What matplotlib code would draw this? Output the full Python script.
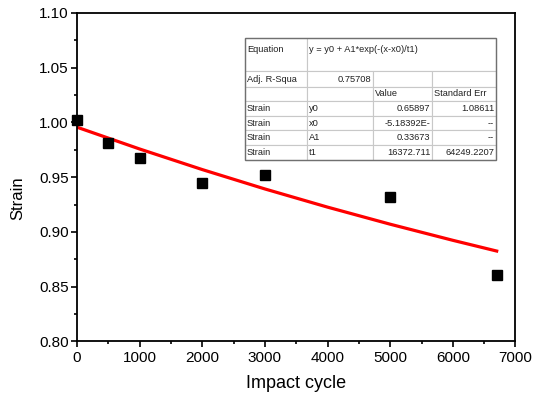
import matplotlib
matplotlib.use("Agg")
import matplotlib.pyplot as plt
from matplotlib.patches import Rectangle
from matplotlib.ticker import MultipleLocator, FormatStrFormatter

plt.rcParams["font.family"] = ["Liberation Sans", "DejaVu Sans"]

# measured strain vs impact cycle
cycles = [0, 500, 1000, 2000, 3000, 5000, 6700]
strain = [1.002, 0.981, 0.968, 0.9445, 0.952, 0.932, 0.861]

# exponential fit curve
fit_x = [0, 1000, 2000, 3000, 4000, 5000, 6000, 6700]
fit_y = [0.9957, 0.9758, 0.9570, 0.9393, 0.9227, 0.9071, 0.8924, 0.8826]

# fit report table
table_rows = [
    ["Equation", "y = y0 + A1*exp(-(x-x0)/t1)", "", ""],
    ["Adj. R-Squa", "0.75708", "", ""],
    ["", "", "Value", "Standard Err"],
    ["Strain", "y0", "0.65897", "1.08611"],
    ["Strain", "x0", "-5.18392E-", "--"],
    ["Strain", "A1", "0.33673", "--"],
    ["Strain", "t1", "16372.711", "64249.2207"],
]

fig = plt.figure(figsize=(5.4, 4.01), dpi=100)
ax = fig.add_axes([0.1426, 0.1484, 0.8120, 0.8192])

ax.plot(fit_x, fit_y, color="red", lw=2.3, zorder=2)
ax.plot(cycles, strain, "s", color="black", ms=7.5, zorder=3, clip_on=False)

ax.set_xlim(0, 7000)
ax.set_ylim(0.80, 1.10)
ax.xaxis.set_major_locator(MultipleLocator(1000))
ax.xaxis.set_minor_locator(MultipleLocator(500))
ax.yaxis.set_major_locator(MultipleLocator(0.05))
ax.yaxis.set_minor_locator(MultipleLocator(0.025))
ax.yaxis.set_major_formatter(FormatStrFormatter("%.2f"))
ax.tick_params(which="major", direction="out", length=4, width=1.2,
               labelsize=11, colors="black", pad=3)
ax.tick_params(which="minor", direction="out", length=2.5, width=1.2)
ax.tick_params(axis="y", pad=2)
ax.tick_params(top=False, right=False)
for s in ax.spines.values():
    s.set_linewidth(1.3)

ax.set_xlabel("Impact cycle", fontsize=13, labelpad=7)
ax.set_ylabel("Strain", fontsize=12)
ax.yaxis.set_label_coords(-0.118, 0.437)

# table
tbl = ax.table(cellText=table_rows, bbox=[0.383, 0.5525, 0.5725, 0.3715],
               cellLoc="left", edges="closed")
tbl.auto_set_font_size(False)
col_w = [62, 66, 59, 64]
row_h = [30, 14, 12.5, 13.5, 13, 13, 13.5]
for (r, c), cell in tbl.get_celld().items():
    cell.set_width(col_w[c])
    cell.set_height(row_h[r])
    cell.set_edgecolor("#c8c8c8")
    cell.set_linewidth(0.8)
    cell.PAD = 0.03
    t = cell.get_text()
    t.set_fontsize(6.7)
    t.set_color("#222222")
    if r == 0:
        t.set_text(t.get_text() + "\n")
    if (r == 1 and c == 1) or (r >= 3 and c >= 2):
        cell._loc = "right"
        t.set_ha("right")
for c, edges in zip(range(1, 4), ["BTL", "BT", "BTR"]):
    tbl[0, c].visible_edges = edges
ax.add_patch(Rectangle((0.383, 0.5525), 0.5725, 0.3715, transform=ax.transAxes,
                       fill=False, edgecolor="#707070", lw=1.0, zorder=5))

fig.savefig("out.png", dpi=100)
